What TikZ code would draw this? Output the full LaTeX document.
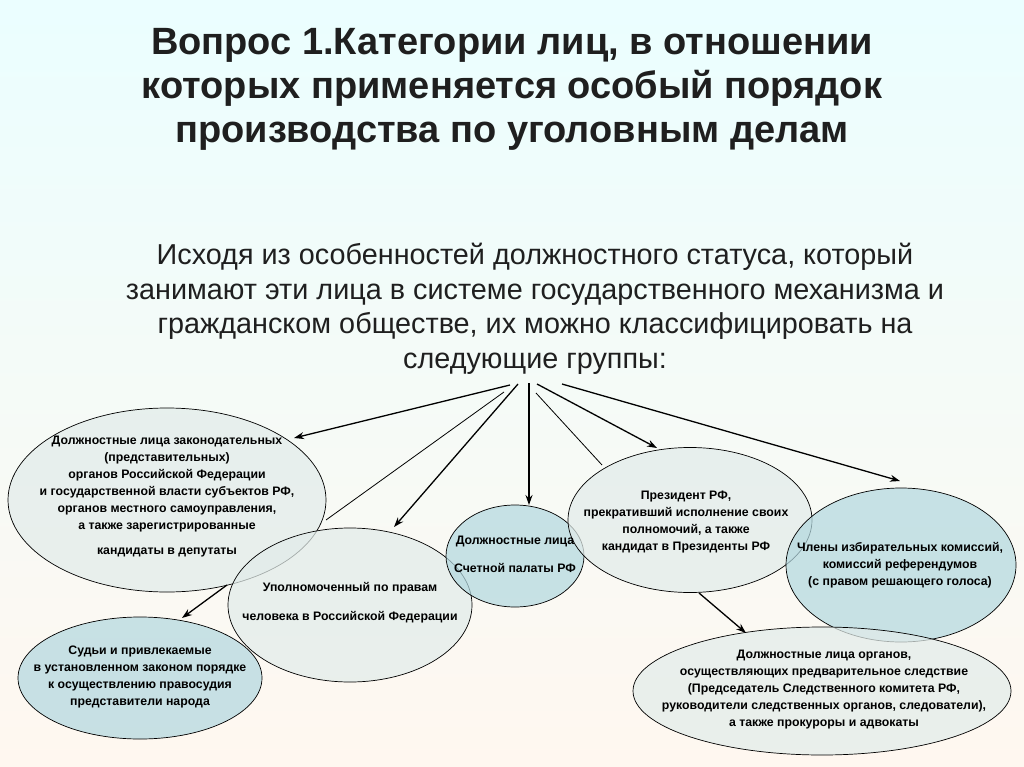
\documentclass[tikz,border=0pt]{standalone}
\usepackage{fontspec}
\setmainfont{Liberation Sans}
\usetikzlibrary{shapes.geometric,arrows.meta}
\definecolor{lightf}{HTML}{E2ECEA}
\definecolor{bluef}{HTML}{B3D8DF}
\tikzset{
  ell/.style={ellipse, draw=black, line width=0.7pt, fill opacity=0.72, inner sep=0pt},
  txt/.style={align=center, inner sep=0pt, font=\fontsize{12.3}{17}\selectfont\bfseries},
  arr/.style={line width=1.3pt, -{Stealth[length=10pt,width=7pt]}},
  pl/.style={line width=0.8pt},
}
\begin{document}
\begin{tikzpicture}[x=1pt,y=-1pt]
\shade[top color=blue!4!cyan!8!white, bottom color=orange!6!white] (0,0) rectangle (1024,767);
\useasboundingbox (0,0) rectangle (1024,767);
\node[font=\fontsize{38}{44}\selectfont\bfseries, align=center, text=black!88] (title) at (512,89)
 {Вопрос 1.Категории лиц, в отношении\\которых применяется особый порядок\\производства по уголовным делам};
\node[font=\fontsize{28.8}{34.5}\selectfont, align=center, text=black!88] (sub) at (535,309)
 {Исходя из особенностей должностного статуса, который\\занимают эти лица в системе государственного механизма и\\гражданском обществе, их можно классифицировать на\\следующие группы:};

\node[ell, fill=lightf, minimum width=318, minimum height=184] (A) at (167,500) {};
\node[ell, fill=lightf, minimum width=244, minimum height=154] (B) at (350,605) {};
\node[ell, fill=bluef, minimum width=138, minimum height=102] (C) at (515,556) {};
\node[ell, fill=lightf, minimum width=244, minimum height=145] (D) at (690,520) {};
\node[ell, fill=bluef, minimum width=230, minimum height=154] (E) at (901,565) {};
\node[ell, fill=lightf, minimum width=378, minimum height=128] (G) at (822,691) {};
\node[ell, fill=bluef, minimum width=244, minimum height=122] (F) at (140,678) {};

\node[txt] (At) at (167,497)
 {Должностные лица законодательных\\(представительных)\\органов Российской Федерации\\и государственной власти субъектов РФ,\\органов местного самоуправления,\\а также зарегистрированные\\[8pt]кандидаты в депутаты};
\node[txt, font=\fontsize{12.3}{29}\selectfont\bfseries] (Bt) at (350,603)
 {Уполномоченный по правам\\человека в Российской Федерации};
\node[txt, font=\fontsize{12.3}{28}\selectfont\bfseries] (Ct) at (515,554)
 {Должностные лица\\Счетной палаты РФ};
\node[txt] (Dt) at (686,522)
 {Президент РФ,\\прекративший исполнение своих\\полномочий, а также\\кандидат в Президенты РФ};
\node[txt] (Et) at (900,565)
 {Члены избирательных комиссий,\\комиссий референдумов\\(с правом решающего голоса)};
\node[txt] (Gt) at (824,690)
 {Должностные лица органов,\\осуществляющих предварительное следствие\\(Председатель Следственного комитета РФ,\\руководители следственных органов, следователи),\\а также прокуроры и адвокаты};
\node[txt] (Ft) at (140,677)
 {Судьи и привлекаемые\\в установленном законом порядке\\к осуществлению правосудия\\представители народа};

\coordinate (s1) at (510,385); \coordinate (t1) at (294,438);
\coordinate (s2) at (504,392); \coordinate (t2) at (326,520);
\coordinate (s3) at (227,585); \coordinate (t3) at (182,618);
\coordinate (s4) at (518,384); \coordinate (t4) at (394,527);
\coordinate (s5) at (529,383); \coordinate (t5) at (529,505);
\coordinate (s6) at (536,393); \coordinate (t6) at (602,465);
\coordinate (s7) at (537,384); \coordinate (t7) at (657,448);
\coordinate (s8) at (562,384); \coordinate (t8) at (900,481);
\coordinate (s9) at (699,593); \coordinate (t9) at (746,633);

\draw[arr] (s1) -- (t1);
\draw[pl] (s2) -- (t2);
\draw[arr] (s3) -- (t3);
\draw[arr] (s4) -- (t4);
\draw[arr] (s5) -- (t5);
\draw[pl] (s6) -- (t6);
\draw[arr] (s7) -- (t7);
\draw[arr] (s8) -- (t8);
\draw[arr] (s9) -- (t9);
\end{tikzpicture}
\end{document}
